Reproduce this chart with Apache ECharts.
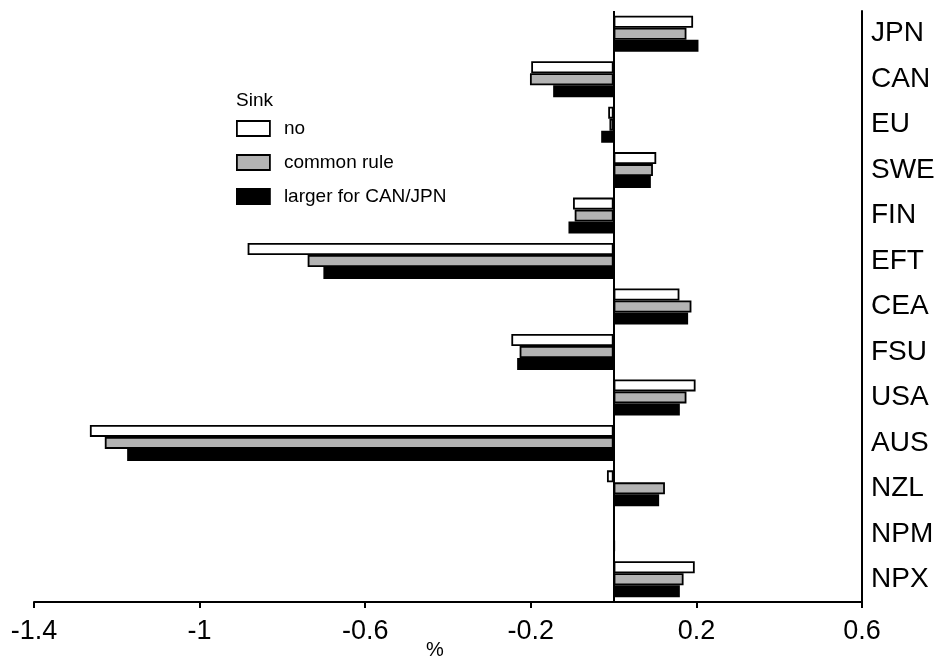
<!DOCTYPE html>
<html>
<head>
<meta charset="utf-8">
<script src="https://cdn.jsdelivr.net/npm/echarts@6/dist/echarts.min.js"></script>
<style>
  html, body { margin: 0; padding: 0; background: #fff; }
  #chart { width: 940px; height: 662px; }
</style>
</head>
<body>
<div id="chart"></div>
<script>
// Regions, listed top to bottom
const regions = ['JPN', 'CAN', 'EU', 'SWE', 'FIN', 'EFT', 'CEA', 'FSU', 'USA', 'AUS', 'NZL', 'NPM', 'NPX'];

// Change in %, by sink scenario
const sinkNo     = [0.192, -0.199, -0.013, 0.103, -0.098, -0.884, 0.159, -0.247, 0.198, -1.265, -0.016, 0.002, 0.196];
const sinkCommon = [0.176, -0.202, -0.010, 0.095, -0.094, -0.739, 0.188, -0.227, 0.176, -1.229, 0.124, 0.002, 0.169];
const sinkLarger = [0.205, -0.146, -0.030, 0.090, -0.109, -0.701, 0.180, -0.233, 0.160, -1.175, 0.110, 0.003, 0.160];

const seriesNames = ['no', 'common rule', 'larger for CAN/JPN'];
const xMin = -1.4, xMax = 0.6, xStep = 0.4;

const font = '"Liberation Sans", Arial, Helvetica, sans-serif';

const chart = echarts.init(document.getElementById('chart'), null, { renderer: 'canvas' });

function barSeries(name, data, fill, withZeroLine) {
  const s = {
    name: name,
    type: 'bar',
    data: data,
    barWidth: 12,
    barGap: '0%',
    itemStyle: { color: fill, borderColor: '#000', borderWidth: 1.8 },
    emphasis: { disabled: true },
    animation: false
  };
  if (withZeroLine) {
    // vertical line at x = 0
    s.markLine = {
      silent: true,
      symbol: 'none',
      label: { show: false },
      lineStyle: { color: '#000', width: 2, type: 'solid' },
      data: [{ xAxis: 0 }]
    };
  }
  return s;
}

chart.setOption({
  backgroundColor: '#fff',
  animation: false,
  textStyle: { fontFamily: font },
  title: {
    text: 'Sink',
    left: 236,
    top: 91,
    padding: 0,
    textStyle: { fontFamily: font, fontSize: 19, fontWeight: 'normal', color: '#000' }
  },
  legend: {
    data: seriesNames,
    orient: 'vertical',
    left: 236,
    top: 119,
    padding: 0,
    itemWidth: 33,
    itemHeight: 15,
    itemGap: 15,
    icon: 'rect',
    textStyle: { fontFamily: font, fontSize: 19, color: '#000', padding: [0, 0, 0, 9] },
    itemStyle: { borderColor: '#000', borderWidth: 1.8 }
  },
  grid: { left: 34, right: 78, top: 11, bottom: 60, containLabel: false, outerBoundsMode: 'none' },
  xAxis: {
    type: 'value',
    min: xMin,
    max: xMax,
    interval: xStep,
    name: '%',
    nameLocation: 'middle',
    nameGap: 38,
    nameMoveOverlap: false,
    nameTextStyle: { fontFamily: font, fontSize: 20, color: '#000', padding: [0, 26, 0, 0] },
    axisLine: { show: true, onZero: false, lineStyle: { color: '#000', width: 2 } },
    axisTick: { show: true, length: 6, lineStyle: { color: '#000', width: 2 } },
    axisLabel: {
      fontFamily: font, fontSize: 27, color: '#000', margin: 16,
      formatter: function (v) { return String(Math.round(v * 10) / 10); }
    },
    splitLine: { show: false }
  },
  yAxis: {
    type: 'category',
    data: regions,
    inverse: true,
    position: 'right',
    axisLine: { show: true, onZero: false, lineStyle: { color: '#000', width: 2 } },
    axisTick: { show: false },
    axisLabel: { fontFamily: font, fontSize: 28, color: '#000', margin: 9 },
    splitLine: { show: false }
  },
  series: [
    barSeries(seriesNames[0], sinkNo, '#ffffff', true),
    barSeries(seriesNames[1], sinkCommon, '#b3b3b3', false),
    barSeries(seriesNames[2], sinkLarger, '#000000', false)
  ]
});
</script>
</body>
</html>
